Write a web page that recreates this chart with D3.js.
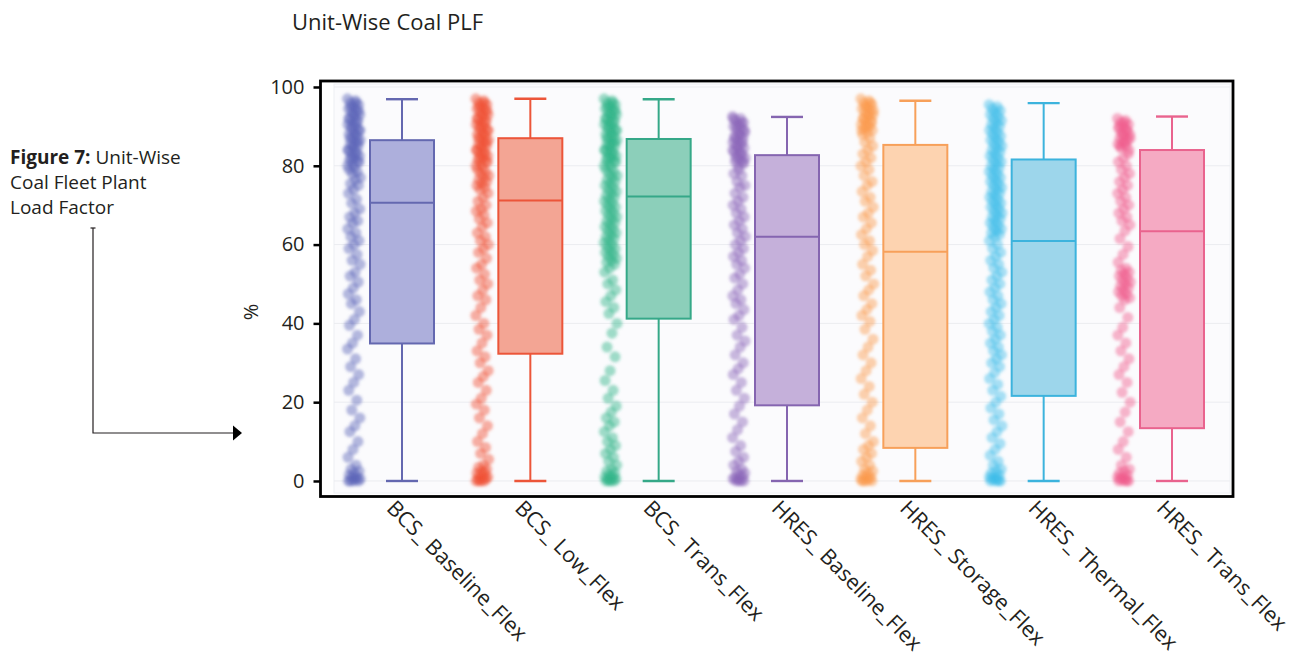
<!DOCTYPE html>
<html>
<head>
<meta charset="utf-8">
<script src="https://cdn.jsdelivr.net/npm/d3@7"></script>
<style>
  html, body { margin: 0; padding: 0; background: #fff; }
  svg { display: block; }
</style>
</head>
<body>
<svg id="chart" width="1299" height="668"></svg>
<script>
// Scenario names (x categories)
const categories = [
  "BCS_ Baseline_Flex", "BCS_ Low_Flex", "BCS_ Trans_Flex",
  "HRES_ Baseline_Flex", "HRES_ Storage_Flex", "HRES_ Thermal_Flex", "HRES_ Trans_Flex"
];

// Box statistics, PLF in %
const whiskerHigh = [96.9, 97.0, 96.9, 92.4, 96.5, 95.9, 92.5];
const q3          = [86.5, 87.0, 86.8, 82.7, 85.3, 81.6, 84.0];
const median      = [70.6, 71.2, 72.2, 62.0, 58.2, 60.9, 63.4];
const q1          = [34.9, 32.3, 41.2, 19.2, 8.4, 21.6, 13.4];
const whiskerLow  = [0, 0, 0, 0, 0, 0, 0];

// Y-axis ticks
const yTicks = [0, 20, 40, 60, 80, 100];

// Unit-level PLF samples for each scenario
const unitsBCSBaseline = [
  97, 96.5, 96, 95.5, 95, 94.5, 94, 93.5, 93, 92.5, 92, 91.5, 91, 90.5, 90, 89.5, 89, 88.5, 88, 87.5,
  87, 86.5, 86, 85.5, 85, 84.5, 84, 83.5, 83, 82.5, 82, 81.5, 81, 80.5, 80,
  96, 95, 94, 93, 92, 91, 90, 89, 88, 87, 86, 85, 84, 83, 82, 81,
  79.5, 79, 78.5, 78, 77, 76.5, 75.5, 75, 74,
  73, 71.5, 70.5, 69, 68, 67, 66, 65.5, 64, 63, 62, 61, 60,
  59, 57.5, 56, 55, 53, 52, 50.5, 49, 47.5, 46, 45,
  43, 41, 39.5, 37, 35, 33.5, 31, 29, 27, 25,
  23, 20.5, 18, 16, 14, 12.5, 10, 8, 6,
  4, 3, 2.5, 2, 1.5, 1, 1, 0.5, 0.5, 0, 0, 0, 0
];
const unitsBCSLow = [
  97, 96.5, 96, 95.5, 95, 94.5, 94, 93.5, 93, 92.5, 92, 91.5, 91, 90.5, 90, 89.5, 89, 88.5, 88, 87.5,
  87, 86.5, 86, 85.5, 85, 84.5, 84, 83.5, 83, 82.5, 82, 81.5, 81, 80.5, 80,
  96, 95, 94, 93, 92, 91, 90, 89, 88, 87, 86, 85, 84, 83, 82, 81,
  79.5, 79, 78.5, 78, 77.5, 77, 76.5, 76, 75.5, 75, 74.5, 74,
  73, 72, 71, 70, 69, 68.5, 67.5, 66.5, 65.5, 64.5, 63, 62, 61, 60,
  59, 58, 56.5, 55, 54, 52.5, 51, 50, 48.5, 47, 46,
  44, 42, 40, 38.5, 37, 35, 33, 31.5, 30, 28, 26.5, 25, 23, 21, 19.5, 18, 16, 14, 12, 10, 8.5, 7, 5.5,
  4, 3.5, 3, 2.5, 2, 2, 1.5, 1, 1, 0.5, 0.5, 0, 0, 0, 0
];
const unitsBCSTrans = [
  97, 96.5, 96, 95.5, 95, 94.5, 94, 93.5, 93, 92.5, 92, 91.5, 91, 90.5, 90, 89.5, 89, 88.5, 88, 87.5,
  87, 86.5, 86, 85.5, 85, 84.5, 84, 83.5, 83, 82.5, 82, 81.5, 81, 80.5, 80,
  96, 95, 94, 93, 92, 91, 90, 89, 88, 87, 86, 85, 84, 83, 82, 81,
  79.5, 79, 78.5, 78, 77.5, 77, 76.5, 76, 75.5, 75, 74.5, 74, 73.5, 73, 72.5, 72, 71.5, 71, 70.5, 70,
  69.5, 69, 68.5, 68, 67.5, 67, 66.5, 66, 65.5, 65, 64.5, 64, 63.5, 63, 62.5, 62, 61.5, 61, 60.5, 60,
  59.5, 59, 58.5, 58, 57.5, 57, 56.5, 56, 55.5, 55, 54, 53,
  51, 50, 48.5, 47, 45.5, 44, 42.5,
  40, 37.5, 34, 31.5, 28, 25.5, 23, 21,
  19, 17.5, 16, 15, 14, 12.5, 11, 10, 9, 8, 7, 6, 5, 4,
  3, 2.5, 2, 1.5, 1, 1, 0.5, 0.5, 0, 0, 0, 0
];
const unitsHRESBaseline = [
  92.5, 92, 91.5, 91, 90.5, 90, 89.5, 89, 88.5, 88, 87.5, 87, 86.5, 86, 85.5, 85, 84.5, 84, 83.5, 83,
  82.5, 82, 81.5, 81, 80.5, 80,
  92, 91, 90, 89, 88, 87, 86, 85, 84, 83, 82, 81,
  79, 78, 77.5, 76, 75, 74.5, 73, 72, 71, 70, 69, 68, 67, 66, 65, 64, 63, 62, 61, 60,
  59, 58, 57, 56, 55, 54, 52.5, 51.5, 50, 48.5, 47, 46, 45, 43.5, 42, 41,
  39, 37, 35.5, 34, 32, 30, 28.5, 27, 25, 23, 21, 19, 17, 15, 13, 11,
  9, 7.5, 6, 5, 4,
  3, 2.5, 2, 1.5, 1, 1, 0.5, 0.5, 0, 0, 0, 0
];
const unitsHRESStorage = [
  97, 96.5, 96, 95.5, 95, 94.5, 94, 93.5, 93, 92.5, 92, 91.5, 91, 90.5, 90, 89.5, 89, 88.5, 88,
  96, 95, 94, 93, 92, 91, 90, 89,
  87, 86, 85, 84, 83, 82, 81, 80, 79, 77.5, 76, 75, 73.5, 72, 71, 69.5, 68, 67, 65.5, 64, 62.5, 61, 60,
  58.5, 57, 55, 53.5, 52, 50, 48.5, 47, 45, 43.5, 42, 40.5,
  38.5, 36, 34, 32, 30, 28, 26, 24, 22, 20, 18, 16, 14, 12,
  10, 9, 8, 7, 6, 5, 4,
  3, 2.5, 2, 1.5, 1, 1, 0.5, 0.5, 0, 0, 0, 0
];
const unitsHRESThermal = [
  95.5, 95, 94.5, 94, 93.5, 93, 92.5, 92, 91.5, 91, 90.5, 90, 89.5, 89, 88.5, 88, 87.5, 87, 86.5, 86,
  85.5, 85, 84.5, 84, 83.5, 83, 82.5, 82, 81.5, 81, 80.5, 80, 79.5, 79, 78.5, 78, 77.5, 77, 76.5, 76,
  75.5, 75, 74.5, 74, 73.5, 73, 72.5, 72, 71.5, 71, 70.5, 70, 69.5, 69, 68.5, 68, 67.5, 67, 66.5, 66,
  65.5, 65, 64.5, 64, 63.5, 63, 62.5, 62,
  61, 60, 59, 58, 57, 56, 55, 54, 53, 52, 51, 50, 49, 48, 47, 46, 45, 44, 43, 42, 41, 40,
  39, 38, 37, 36, 35, 34, 33, 32, 31, 30,
  29, 27.5, 26, 24.5, 23, 21.5, 20, 18.5, 17, 15.5, 14, 12.5, 11, 9.5, 8, 6.5, 5,
  4, 3, 2.5, 2, 1.5, 1, 1, 0.5, 0.5, 0, 0, 0, 0
];
const unitsHRESTrans = [
  92, 91.5, 91, 90.5, 90, 89.5, 89, 88.5, 88, 87.5, 87, 86.5, 86, 85.5, 85, 84.5, 84,
  91, 90, 89, 88, 87, 86, 85,
  83, 82, 81, 80, 79, 78, 77, 76, 75, 74, 73, 72, 71, 70, 69, 68, 67, 66, 65,
  63.5, 61.5, 59.5, 57.5, 55.5,
  54, 53.5, 53, 52.5, 52, 51.5, 51, 50.5, 50, 49.5, 49, 48.5, 48, 47.5, 47, 46.5, 46,
  44, 41.5, 39, 37, 35, 33, 31, 29, 27, 25, 22.5, 20, 17.5, 15, 12.5, 10, 8, 6,
  4, 3, 2.5, 2, 1.5, 1, 1, 0.5, 0.5, 0, 0, 0, 0
];

// Per-scenario colours: dots, box outline, box fill
const dotColors    = ["#5b63b7", "#ef4f33", "#2eb387", "#8a63b8", "#fb9a4c", "#3dbde8", "#ef5b8b"];
const strokeColors = ["#6468b0", "#ec5539", "#35a888", "#8565b0", "#f7a05a", "#3cb3dd", "#e9638e"];
const fillColors   = ["#adafdc", "#f3a594", "#8ccfba", "#c5b0da", "#fdd3b0", "#9dd6eb", "#f5aac3"];

const unitSamples = [
  unitsBCSBaseline, unitsBCSLow, unitsBCSTrans,
  unitsHRESBaseline, unitsHRESStorage, unitsHRESThermal, unitsHRESTrans
];

const FONT = "'Open Sans', 'Noto Sans', sans-serif";
const svg = d3.select("#chart");

// Scales
const y = d3.scaleLinear().domain([-3.94, 101.52]).range([496.5, 81]);
const x = d3.scalePoint().domain(categories).range([402, 1172]);

const frame = { left: 320.5, top: 81, right: 1233, bottom: 496.5 };
const boxHalf = 32, capHalf = 16, stripOffset = -48, stripHalf = 6.5, dotR = 5.5;

// Soft blur for the unit dots
const defs = svg.append("defs");
defs.append("filter").attr("id", "soft")
  .attr("x", "-30%").attr("y", "-5%").attr("width", "160%").attr("height", "110%")
  .append("feGaussianBlur").attr("stdDeviation", 1.4);

// Title
svg.append("text")
  .attr("x", 292).attr("y", 30)
  .attr("font-family", FONT).attr("font-size", 22).attr("fill", "#231f20")
  .text("Unit-Wise Coal PLF");

// Side caption
const cap = svg.append("text")
  .attr("font-family", FONT).attr("font-size", 19).attr("fill", "#231f20");
const l1 = cap.append("tspan").attr("x", 10).attr("y", 164);
l1.append("tspan").attr("font-weight", "bold").text("Figure 7:");
l1.append("tspan").text(" Unit-Wise");
cap.append("tspan").attr("x", 10).attr("y", 189).text("Coal Fleet Plant");
cap.append("tspan").attr("x", 10).attr("y", 214).text("Load Factor");

// Caption pointer
const pointer = svg.append("g").attr("stroke", "#231f20").attr("fill", "none").attr("stroke-width", 1.2);
pointer.append("path").attr("d", "M93,228 V433 H234");
pointer.append("path").attr("d", "M90.5,228 H95.5");
svg.append("path").attr("d", "M233,425.5 L242,433 L233,440.5 Z").attr("fill", "#000");

// Plot panel background and gridlines
svg.append("rect")
  .attr("x", 334).attr("y", 84).attr("width", 896).attr("height", 409)
  .attr("fill", "#fbfbfd").attr("stroke", "#eef0f4").attr("stroke-width", 1);

svg.append("g").selectAll("line").data(yTicks).join("line")
  .attr("x1", 334).attr("x2", 1230)
  .attr("y1", d => y(d)).attr("y2", d => y(d))
  .attr("stroke", "#ebecf0").attr("stroke-width", 1);

// Unit dots (strip beside each box)
const strips = svg.append("g").attr("filter", "url(#soft)");
categories.forEach((c, k) => {
  const cx = x(c) + stripOffset;
  strips.append("g").selectAll("circle").data(unitSamples[k]).join("circle")
    .attr("cx", (d, i) => cx + (((i * 0.6180339887) % 1) - 0.5) * 2 * stripHalf)
    .attr("cy", d => y(d))
    .attr("r", dotR)
    .attr("fill", dotColors[k])
    .attr("fill-opacity", 0.45);
});

// Box plots
const boxes = svg.append("g");
categories.forEach((c, k) => {
  const cx = x(c);
  const g = boxes.append("g").attr("stroke", strokeColors[k]).attr("stroke-width", 2);
  g.append("line").attr("x1", cx).attr("x2", cx).attr("y1", y(whiskerHigh[k])).attr("y2", y(q3[k]));
  g.append("line").attr("x1", cx).attr("x2", cx).attr("y1", y(q1[k])).attr("y2", y(whiskerLow[k]));
  g.append("line").attr("x1", cx - capHalf).attr("x2", cx + capHalf).attr("y1", y(whiskerHigh[k])).attr("y2", y(whiskerHigh[k])).attr("stroke-width", 2.4);
  g.append("line").attr("x1", cx - capHalf).attr("x2", cx + capHalf).attr("y1", y(whiskerLow[k])).attr("y2", y(whiskerLow[k])).attr("stroke-width", 2.4);
  g.append("rect")
    .attr("x", cx - boxHalf).attr("width", boxHalf * 2)
    .attr("y", y(q3[k])).attr("height", y(q1[k]) - y(q3[k]))
    .attr("fill", fillColors[k]);
  g.append("line").attr("x1", cx - boxHalf).attr("x2", cx + boxHalf).attr("y1", y(median[k])).attr("y2", y(median[k]));
});

// Y axis
svg.append("g")
  .attr("transform", `translate(${frame.left},0)`)
  .call(d3.axisLeft(y).tickValues(yTicks).tickSize(7).tickPadding(9))
  .call(g => g.select(".domain").remove())
  .call(g => g.selectAll(".tick line").attr("stroke", "#000").attr("stroke-width", 2.5))
  .call(g => g.selectAll(".tick text")
    .attr("font-family", FONT).attr("font-size", 20).attr("fill", "#231f20"));

svg.append("text")
  .attr("transform", "translate(258,312) rotate(-90)")
  .attr("text-anchor", "middle")
  .attr("font-family", FONT).attr("font-size", 20).attr("fill", "#231f20")
  .text("%");

// X axis with rotated labels
svg.append("g")
  .attr("transform", `translate(0,${frame.bottom})`)
  .call(d3.axisBottom(x).tickSize(0))
  .call(g => g.select(".domain").remove())
  .call(g => g.selectAll(".tick text")
    .attr("x", 0).attr("y", 0).attr("dy", 0)
    .attr("transform", "translate(-17,13) rotate(45)")
    .attr("text-anchor", "start")
    .attr("font-family", FONT).attr("font-size", 21.5).attr("fill", "#231f20"));

// Plot frame
svg.append("rect")
  .attr("x", frame.left).attr("y", frame.top)
  .attr("width", frame.right - frame.left).attr("height", frame.bottom - frame.top)
  .attr("fill", "none").attr("stroke", "#000").attr("stroke-width", 2.8);
</script>
</body>
</html>
